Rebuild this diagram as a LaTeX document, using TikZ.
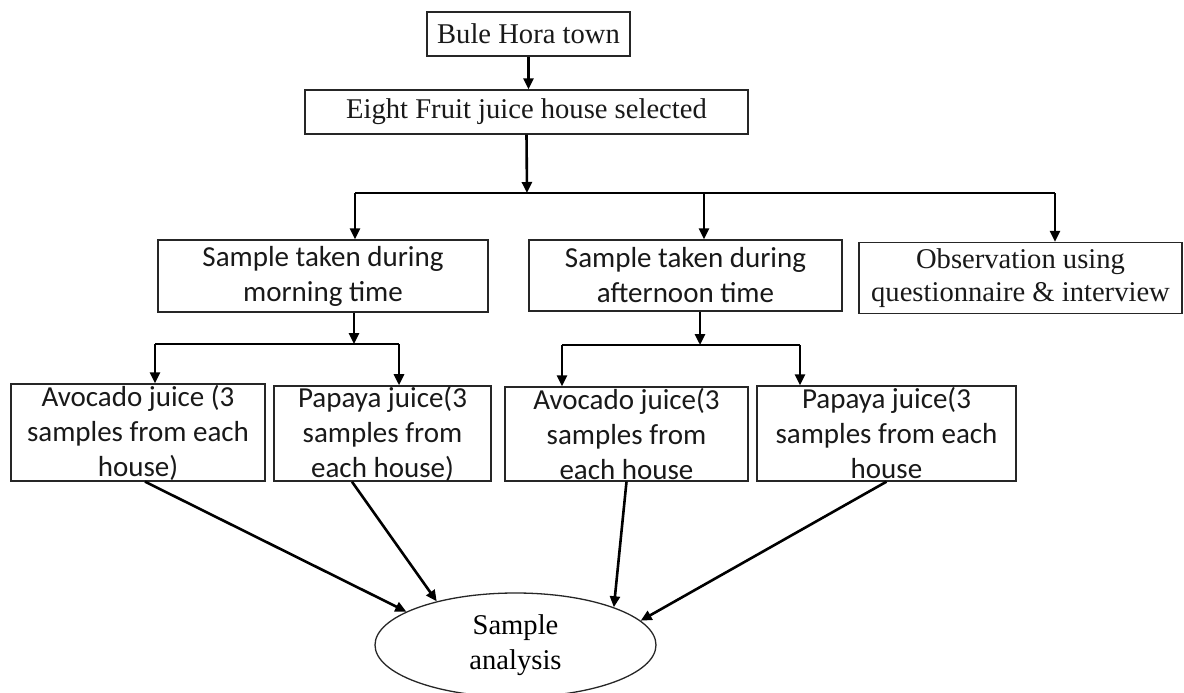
\documentclass[tikz,border=0pt]{standalone}
\usepackage{fontspec}
\setmainfont{Liberation Serif}
\newfontfamily\calib{Carlito}
\usetikzlibrary{arrows.meta,shapes.geometric}
\begin{document}
\begin{tikzpicture}[x=1pt,y=-1pt,
  box/.style={draw=black!85, line width=1.3pt, rectangle, inner sep=0pt, align=center, text=black!90},
  serif/.style={font=\fontsize{28.6}{33}\selectfont},
  cal/.style={font=\calib\fontsize{29}{35}\selectfont},
  conn/.style={line width=2.6pt, black},
  arr/.style={conn, -{Triangle[length=11pt,width=10pt]}},
]
\useasboundingbox[fill=white] (0,0) rectangle (1184,693);

\node[box,serif,minimum width=203pt,minimum height=44pt] (bule) at (528.5,34) {Bule Hora town};
\node[box,serif,minimum width=443pt,minimum height=44pt] (eight) at (526.5,112) {Eight Fruit juice house selected};

\coordinate (bar) at (527,193);
\coordinate (barL) at (355,193);
\coordinate (barM) at (704,193);
\coordinate (barR) at (1055,193);

\node[box,cal,minimum width=330pt,minimum height=72pt] (morn) at (323,276) {Sample taken during\\morning time};
\node[box,cal,minimum width=313pt,minimum height=71pt] (aft) at (685.5,275.5) {Sample taken during\\afternoon time};
\node[box,serif,minimum width=323pt,minimum height=71pt] (obs) at (1020.5,278) {Observation using\\questionnaire \& interview};

\coordinate (mbar) at (354,344);
\coordinate (mbarL) at (155,344);
\coordinate (mbarR) at (399,344);
\coordinate (abar) at (700,345);
\coordinate (abarL) at (562,345);
\coordinate (abarR) at (800,345);

\node[box,cal,minimum width=254pt,minimum height=97pt] (avo1) at (138,432.5) {Avocado juice (3\\samples from each\\house)};
\node[box,cal,minimum width=217pt,minimum height=95pt] (pap1) at (382.5,433.5) {Papaya juice(3\\samples from\\each house)};
\node[box,cal,minimum width=243pt,minimum height=94pt] (avo2) at (626.5,434) {Avocado juice(3\\samples from\\each house};
\node[box,cal,minimum width=259pt,minimum height=95pt] (pap2) at (886.5,433.5) {Papaya juice(3\\samples from each\\house};

\node[draw=black!85, line width=1.3pt, ellipse, minimum width=281pt, minimum height=104pt, inner sep=0pt, font=\fontsize{28.6}{35}\selectfont, align=center] (ell) at (515.5,645) {Sample\\analysis};

% top connectors
\draw[arr] (bule.south) -- (bule.south |- eight.north);
\draw[arr] (eight.south) -- (bar);
\draw[conn] (barL) -- (barR);
\draw[arr] (barL) -- (barL |- morn.north);
\draw[arr] (barM) -- (barM |- aft.north);
\draw[arr] (barR) -- (barR |- obs.north);

% morning branch
\draw[arr] (morn.south -| mbar) -- (mbar);
\draw[conn] (mbarL) -- (mbarR);
\draw[arr] (mbarL) -- (mbarL |- avo1.north);
\draw[arr] (mbarR) -- (mbarR |- pap1.north);

% afternoon branch
\draw[arr] (aft.south -| abar) -- (abar);
\draw[conn] (abarL) -- (abarR);
\draw[arr] (abarL) -- (abarL |- avo2.north);
\draw[arr] (abarR) -- (abarR |- pap2.north);

% to analysis
\draw[arr] ([xshift=7pt]avo1.south) -- (ell.163);
\draw[arr] ([xshift=-30.5pt]pap1.south) -- (ell.151);
\draw[arr] (avo2.south) -- (ell.21);
\draw[arr] (pap2.south) -- (ell.11.5);
\end{tikzpicture}
\end{document}
